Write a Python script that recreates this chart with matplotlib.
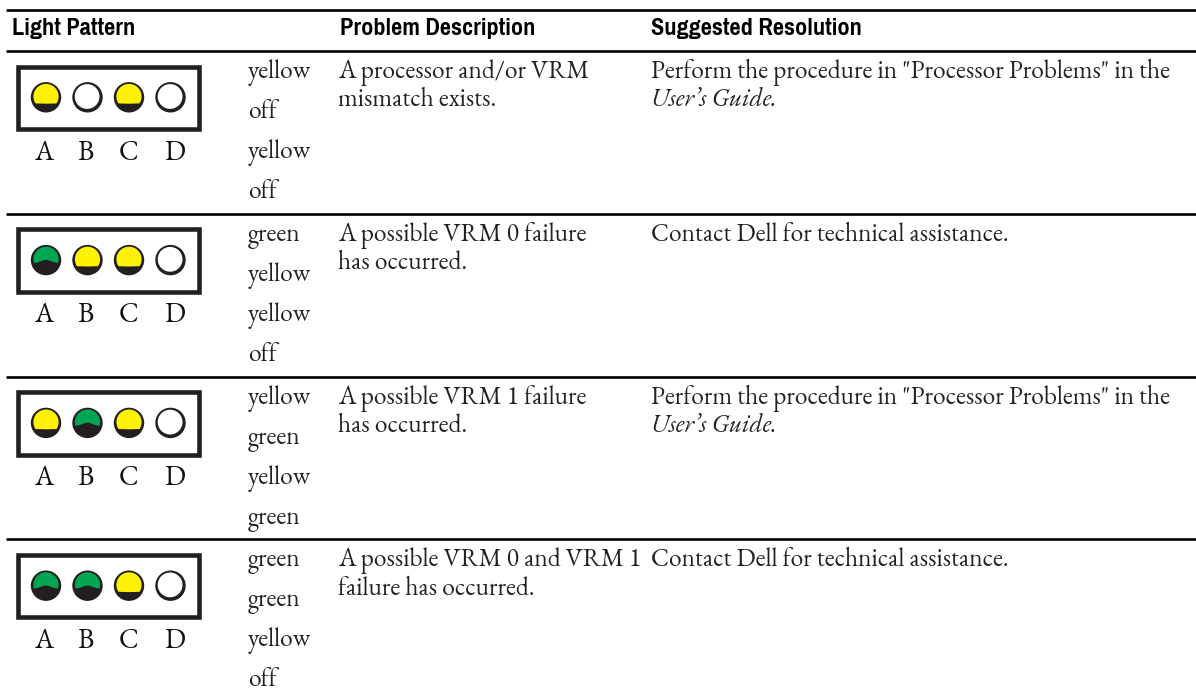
import numpy as np
import matplotlib
matplotlib.use("Agg")
import matplotlib.pyplot as plt
from matplotlib.patches import Circle, Rectangle, PathPatch
from matplotlib.path import Path

headers = ["Light Pattern", "Problem Description", "Suggested Resolution"]
led_names = ["A", "B", "C", "D"]
patterns = [
    ["yellow", "off", "yellow", "off"],
    ["green", "yellow", "yellow", "off"],
    ["yellow", "green", "yellow", "green"],
    ["green", "green", "yellow", "off"],
]
# Row 3 of the drawn lights differs from the printed words, as in the reference
lights = [
    ["yellow", "off", "yellow", "off"],
    ["green", "yellow", "yellow", "off"],
    ["yellow", "green", "yellow", "off"],
    ["green", "green", "yellow", "off"],
]
problems = [
    ["A processor and/or VRM", "mismatch exists."],
    ["A possible VRM 0 failure", "has occurred."],
    ["A possible VRM 1 failure", "has occurred."],
    ["A possible VRM 0 and VRM 1", "failure has occurred."],
]
resolutions = [
    ['Perform the procedure in "Processor Problems" in the', "User\u2019s Guide."],
    ["Contact Dell for technical assistance."],
    ['Perform the procedure in "Processor Problems" in the', "User\u2019s Guide."],
    ["Contact Dell for technical assistance."],
]

W, H = 1196, 696
DARK = "#231f20"
FILL = {"yellow": "#fff200", "green": "#00a651"}
SERIF = ["EB Garamond", "Liberation Serif"]
NARROW = ["Pragati Narrow", "Liberation Sans"]

fig = plt.figure(figsize=(W / 100, H / 100), dpi=100)
ax = fig.add_axes([0, 0, 1, 1])
ax.set_xlim(0, W)
ax.set_ylim(H, 0)
ax.axis("off")


def rule(y, lw):
    ax.plot([6, W], [y, y], color="black", lw=lw, solid_capstyle="butt")


def led(cx, cy, state):
    ax.add_patch(Circle((cx, cy), 15.2, fc=DARK, ec="none", zorder=3))
    if state == "off":
        ax.add_patch(Circle((cx - 0.4, cy - 0.8), 12.4, fc="white", ec="none", zorder=4))
        return
    clip = Circle((cx, cy - 0.8), 12.6, transform=ax.transData)
    if state == "yellow":
        verts = [(cx - 16, cy - 18), (cx + 16, cy - 18), (cx + 16, cy + 6),
                 (cx, cy + 6.4), (cx - 16, cy + 6), (cx - 16, cy - 18)]
        codes = [Path.MOVETO] + [Path.LINETO] * 4 + [Path.CLOSEPOLY]
    else:
        xs = np.linspace(-16, 16, 33)
        ys = 3.0 - 3.2 * np.exp(-(xs / 7.0) ** 2)
        verts = [(cx - 16, cy - 18), (cx + 16, cy - 18)]
        verts += [(cx + a, cy + b) for a, b in zip(xs[::-1], ys[::-1])]
        verts += [(cx - 16, cy - 18)]
        codes = [Path.MOVETO] + [Path.LINETO] * (len(verts) - 2) + [Path.CLOSEPOLY]
    p = PathPatch(Path(verts, codes), fc=FILL[state], ec="none", zorder=4)
    ax.add_patch(p)
    p.set_clip_path(clip)


rule(9.5, 1.9)
rule(51, 1.9)
header_x = [12, 340, 651]
for x, t in zip(header_x, headers):
    ax.text(x, 35, t, family=NARROW, weight="bold", fontsize=19,
            color="black", va="baseline", ha="left")

ROW = 162.8
for i in range(4):
    top = 51 + ROW * i
    if i < 3:
        rule(top + ROW, 1.9)
    ax.add_patch(Rectangle((18, top + 15.6), 181, 62.4, fc="white",
                           ec=DARK, lw=3.3, zorder=2))
    for cx, letter_x, name, state in zip([46, 87.5, 129, 170.5],
                                         [44, 86, 129, 175], led_names, lights[i]):
        led(cx, top + 46.3, state)
        ax.text(letter_x, top + 108.5, name, family=SERIF, fontsize=20,
                color="#111111", ha="center", va="baseline")
    for j, word in enumerate(patterns[i]):
        ax.text(248, top + 27 + 40 * j, word, family=SERIF, fontsize=18.3,
                color="#222222", va="baseline")
    for j, line in enumerate(problems[i]):
        ax.text(338, top + 27 + 28.5 * j, line, family=SERIF, fontsize=18.3,
                color="#222222", va="baseline")
    for j, line in enumerate(resolutions[i]):
        ax.text(651, top + 27 + 28.5 * j, line, family=SERIF, fontsize=18.3,
                style="italic" if line.startswith("User") else "normal",
                color="#222222", va="baseline")

fig.savefig("out.png", dpi=100)
